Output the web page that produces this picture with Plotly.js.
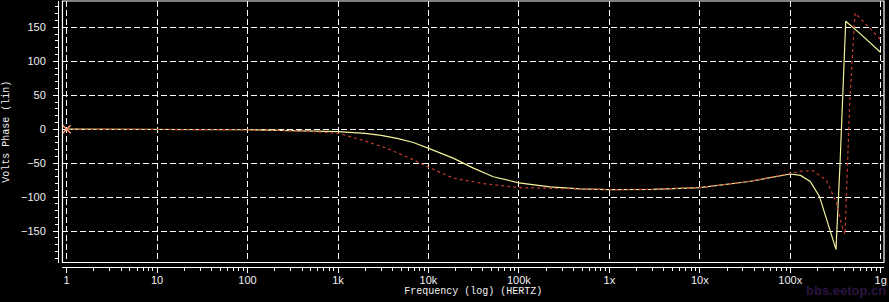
<!DOCTYPE html>
<html>
<head>
<meta charset="utf-8">
<script src="https://cdn.plot.ly/plotly-3.0.1.min.js"></script>
<style>
html,body{margin:0;padding:0;background:#000;}
#chart{width:889px;height:302px;}
</style>
</head>
<body>
<div id="chart"></div>
<script>
// Frequency (Hz) and phase (deg)
const freqA = [1, 10, 100, 300, 1e3, 2e3, 3e3, 4.5e3, 6.8e3, 1.04e4, 1.9e4, 3.1e4, 5.2e4, 1e5, 2.2e5, 4.7e5, 1e6, 3e6, 1e7, 3.5e7, 7.7e7, 1e8, 1.3e8, 1.66e8, 2.1e8, 2.75e8, 3.2e8, 3.55e8, 4.1e8, 6e8, 1e9];
const phaseA = [0, -0.1, -0.8, -2, -3.5, -6, -9, -13.5, -19.5, -29, -43, -57, -70, -79, -85, -88, -89, -88.5, -86, -77, -68, -66, -68, -77, -99, -148, -177, -50, 159, 140, 113];

const freqB = [1, 10, 100, 380, 1e3, 1.75e3, 3.45e3, 6.8e3, 1.04e4, 1.88e4, 4e4, 1e5, 3.4e5, 1e6, 3e6, 1e7, 3.5e7, 7.7e7, 1e8, 1.29e8, 1.78e8, 2.5e8, 3.26e8, 3.7e8, 4.03e8, 4.55e8, 5.2e8, 1e9];
const phaseB = [0, 0, -0.8, -2.5, -6, -15, -28, -45, -57, -72, -80, -86, -88, -89, -88.5, -86, -77, -68, -64, -62, -61, -75, -109, -141, -155, 43, 171, 132];

const markerFreq = [1];
const markerPhase = [0];

const xTickVals = [1, 10, 100, 1e3, 1e4, 1e5, 1e6, 1e7, 1e8, 1e9];
const xTickText = ['1', '10', '100', '1k', '10k', '100k', '1x', '10x', '100x', '1g'];
const yTickVals = [-150, -100, -50, 0, 50, 100, 150];

const minorX = [];
for (let d = 0; d < 9; d++) for (let m = 2; m <= 9; m++) minorX.push(m * Math.pow(10, d));

const traces = [
  {x: freqA, y: phaseA, type: 'scatter', mode: 'lines',
   line: {color: '#f4f49a', width: 1.2}, hoverinfo: 'skip'},
  {x: freqB, y: phaseB, type: 'scatter', mode: 'lines',
   line: {color: '#c03a30', width: 1.2, dash: 'dot'}, hoverinfo: 'skip'},
  {x: markerFreq, y: markerPhase, type: 'scatter', mode: 'markers',
   marker: {symbol: 'x-thin', size: 8, line: {color: '#ff9a70', width: 1.5}}, hoverinfo: 'skip'}
];

const tickFont = {family: 'Liberation Sans, Arial, sans-serif', size: 11, color: '#f0f0f0'};
const titleFont = {family: 'Liberation Mono, DejaVu Sans Mono, monospace', size: 10, color: '#f0f0f0'};

const layout = {
  width: 889, height: 302,
  paper_bgcolor: '#000', plot_bgcolor: '#000',
  showlegend: false,
  margin: {l: 58, r: 5, t: 1, b: 35, pad: 0},
  xaxis: {
    type: 'log', range: [-0.046, 9.036],
    domain: [0.0054, 1], anchor: 'free', position: 0,
    tickmode: 'array', tickvals: xTickVals, ticktext: xTickText,
    ticks: 'outside', ticklen: 5, tickcolor: '#fff', tickwidth: 1,
    ticklabelstandoff: -2,
    showline: true, linecolor: '#fff', linewidth: 1,
    showgrid: true, gridcolor: '#fff', gridwidth: 1, griddash: '6px,3px',
    zeroline: false, tickfont: tickFont,
    minor: {tickmode: 'array', tickvals: minorX, ticks: 'outside', ticklen: 3, tickcolor: '#fff', showgrid: false},
    title: {text: 'Frequency (log) (HERTZ)', font: titleFont, standoff: 1}
  },
  yaxis: {
    range: [-196.3, 188.8],
    domain: [0.0169, 1], anchor: 'free', position: 0,
    tickmode: 'array', tickvals: yTickVals,
    ticks: 'outside', ticklen: 5, tickcolor: '#fff', tickwidth: 1,
    ticklabelstandoff: 5,
    showline: true, linecolor: '#fff', linewidth: 1,
    showgrid: true, gridcolor: '#fff', gridwidth: 1, griddash: '6px,3px',
    zeroline: false, tickfont: tickFont,
    minor: {dtick: 10, tick0: 0, ticks: 'outside', ticklen: 3, tickcolor: '#fff', showgrid: false},
    title: {text: 'Volts Phase (lin)', font: titleFont, standoff: 8}
  },
  shapes: [
    {type: 'rect', xref: 'x domain', yref: 'y domain', x0: 0, x1: 1, y0: 0, y1: 1,
     line: {color: '#fff', width: 1.2}, fillcolor: 'rgba(0,0,0,0)', layer: 'above'}
  ],
  annotations: [
    {text: 'bbs.eetop.cn', xref: 'paper', yref: 'paper', x: 1.005, y: -0.09, xanchor: 'right', yanchor: 'middle',
     showarrow: false, font: {family: 'Liberation Sans, Arial, sans-serif', size: 13, color: '#2a1440', weight: 'bold'}}
  ]
};

Plotly.newPlot('chart', traces, layout, {staticPlot: true, displayModeBar: false});
</script>
</body>
</html>
